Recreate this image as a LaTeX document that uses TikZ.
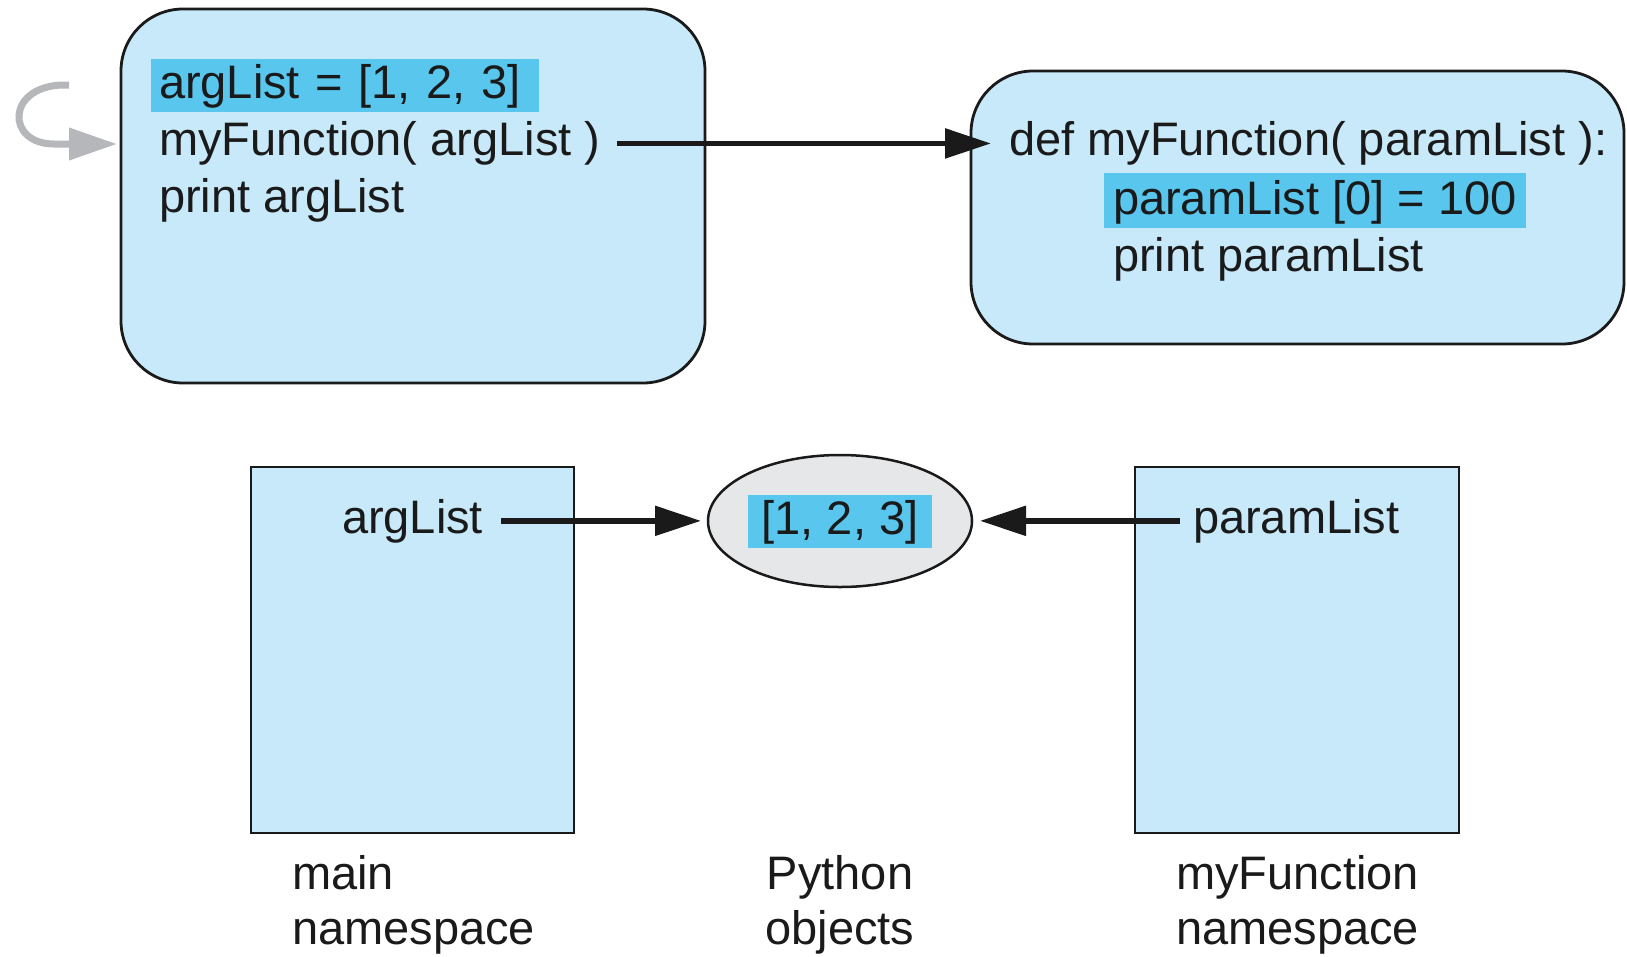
\documentclass[tikz,border=0pt]{standalone}
\usepackage{fontspec}
\setmainfont{Liberation Sans}
\usetikzlibrary{arrows.meta,shapes.geometric,calc}
\definecolor{boxblue}{HTML}{C7E9F9}
\definecolor{hlblue}{HTML}{59C6EE}
\definecolor{objgray}{HTML}{E6E7E8}
\definecolor{curvegray}{HTML}{B5B7BA}
\definecolor{edge}{HTML}{1A1A1A}
\begin{document}
\begin{tikzpicture}[x=1pt,y=-1pt,
  every node/.style={font=\fontsize{47}{57}\selectfont, inner sep=0pt, outer sep=0pt, text=edge},
  codebox/.style={draw=edge, line width=2.8pt, fill=boxblue, rounded corners=62pt},
  nsbox/.style={draw=edge, line width=2.8pt, fill=boxblue},
  txt/.style={anchor=base west},
  hl/.style={anchor=base west, fill=hlblue, inner xsep=8pt, inner ysep=0pt, text height=40pt, text depth=13pt},
  arr/.style={line width=5.5pt, draw=edge, -{Triangle[length=46pt,width=29pt]}},
  loopcurve/.style={line width=7pt, draw=curvegray, -{Triangle[length=48pt,width=31pt]}}
]
\useasboundingbox (0,0) rectangle (1627,956);

% top code boxes
\node[codebox, minimum width=584pt, minimum height=374pt] (mainbox) at (413,196) {};
\node[codebox, minimum width=653pt, minimum height=273pt] (funcbox) at (1297.5,207.5) {};

% main code lines
\node[hl, text width=372pt, align=left] (a1) at (151,98.6) {argList = [1, 2, 3]};
\node[txt] (a2) at (159,155.6) {myFunction( argList )};
\node[txt] (a3) at (159,212.7) {print argList};

% function code lines
\node[txt] (b1) at (1009,155.6) {def myFunction( paramList ):};
\node[hl, inner xsep=9pt, text height=41pt, text depth=14pt] (b2) at (1104,214) {paramList [0] = 100};
\node[txt] (b3) at (1113,271) {print paramList};

% call arrow
\draw[arr] ([xshift=17pt]a2.east) -- ([xshift=-18pt]a2.east -| b1.west);

% gray loop arrow
\coordinate (cs) at (69,85);
\coordinate (ce) at (117,144);
\draw[loopcurve] (cs) -- (62,85) .. controls (6,87) and (6,144) .. (54,144) -- (ce);

% namespaces
\node[nsbox, minimum width=323pt, minimum height=366pt] (mainns) at (412.5,650) {};
\node[nsbox, minimum width=324pt, minimum height=366pt] (funcns) at (1297,650) {};

% python object
\node[ellipse, draw=edge, line width=2.5pt, fill=objgray, minimum width=264pt, minimum height=132pt] (obj) at (840,521) {};
\node[hl, anchor=center, inner xsep=14pt] (objtxt) at (obj.center) {[1, 2, 3]};

\node[txt] (argl) at (342,533) {argList};
\node[txt] (parl) at (1193,533) {paramList};

\draw[arr, shorten >=7pt] ([xshift=18pt]argl.east) -- (argl.east -| obj.west);
\draw[arr, shorten >=8pt] ([xshift=-13pt]parl.west) -- (parl.west -| obj.east);

% labels
\node[txt] (lmain1) at (292,889) {main};
\node[txt] (lmain2) at (292,944) {namespace};
\node[anchor=base] (lpy1) at (840,889) {Python};
\node[anchor=base] (lpy2) at (840,944) {objects};
\node[txt] (lfn1) at (1176,889) {myFunction};
\node[txt] (lfn2) at (1176,944) {namespace};
\end{tikzpicture}
\end{document}
